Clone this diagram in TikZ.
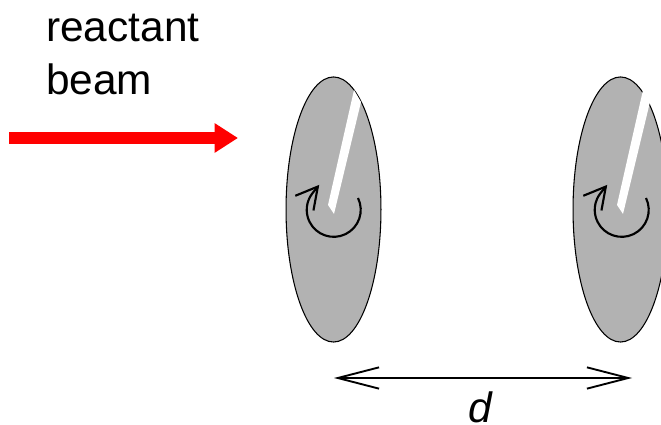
\documentclass[tikz,border=0pt]{standalone}
\usepackage{fontspec}
\setmainfont{Liberation Sans}
\usepackage{xcolor}
\usetikzlibrary{shapes.geometric, arrows.meta, positioning}

\begin{document}
\begin{tikzpicture}[
  x=0.75pt, y=0.75pt,
  disc/.style={ellipse, draw=black, fill=black!30, line width=0.8pt, inner sep=0pt,
               minimum width=71.2pt, minimum height=198.8pt},
  slit/.style={fill=white},
  label/.style={font=\fontsize{31.8}{39.8}\selectfont, align=left, inner sep=0pt},
  beam/.style={-{Triangle[length=17.5pt, width=21pt]}, line width=9pt, red},
  turn/.style={-{Straight Barb[length=16pt, width=17.5pt, line width=1.6pt]}, line width=1.6pt},
  gap/.style={{Straight Barb[length=31pt, width=16pt]}-{Straight Barb[length=31pt, width=16pt]}, line width=1.4pt}
]
  \useasboundingbox (0,0) rectangle (661,425);

  \node[label, anchor=base west] (reactant) at (46,383) {reactant};
  \node[label, anchor=base west] (beamtext) at (46,330) {beam};
  \node[label, anchor=base] (dist) at (480.5,2.5) {\textit{d}};

  \coordinate (beamstart) at (9,287);
  \coordinate (beamend) at (238,287);
  \draw[beam] (beamstart) -- (beamend);

  \node[disc] (discA) at (333.5,215.5) {};
  \node[disc] (discB) at (620.5,215.5) {};

  % slits
  \fill[slit] (328,220) -- (334,211) -- (361,323) -- (354,335) -- cycle;
  \fill[slit] (617,220) -- (623,211) -- (650,323) -- (643,335) -- cycle;

  % rotation
  \coordinate (turnA) at (358,227);
  \coordinate (turnB) at (646,227);
  \draw[turn] (turnA) arc[start angle=26, end angle=-219, radius=27] -- ++(6.5,8);
  \draw[turn] (turnB) arc[start angle=26, end angle=-219, radius=27] -- ++(6.5,8);

  \coordinate (gapleft) at (334,47);
  \coordinate (gapright) at (632,47);
  \draw[gap] (gapleft) -- (gapright);
\end{tikzpicture}
\end{document}
